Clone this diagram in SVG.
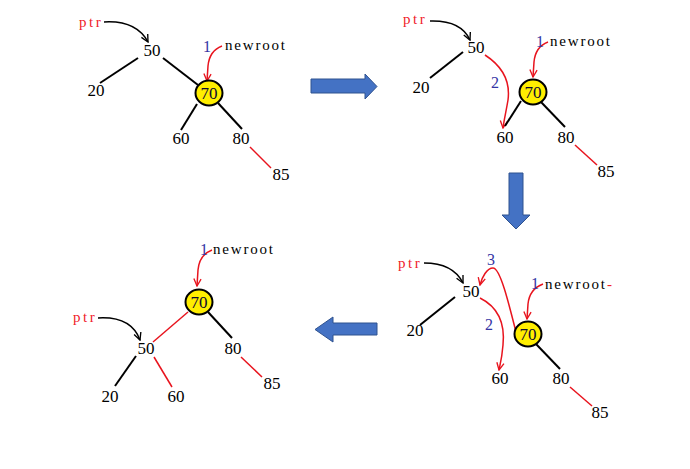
<svg xmlns="http://www.w3.org/2000/svg" width="690" height="469" viewBox="0 0 690 469">
<defs>
<marker id="ab" viewBox="0 0 10 10" refX="9" refY="5" markerWidth="9" markerHeight="9" orient="auto" markerUnits="userSpaceOnUse"><path d="M1,1 L9,5 L1,9" fill="none" stroke="#000" stroke-width="1.5"/></marker>
<marker id="ar" viewBox="0 0 10 10" refX="9" refY="5" markerWidth="9" markerHeight="9" orient="auto" markerUnits="userSpaceOnUse"><path d="M1,1 L9,5 L1,9" fill="none" stroke="#e8141e" stroke-width="1.5"/></marker>
<style>
.num{font-family:"Liberation Serif",serif;font-size:17px;fill:#000;text-anchor:middle}
.n70{font-family:"Liberation Serif",serif;font-size:17px;fill:#0a0a30;text-anchor:middle}
.ptr{font-family:"Liberation Serif",serif;font-size:15px;fill:#f0202a;letter-spacing:2.6px}
.nr{font-family:"Liberation Serif",serif;font-size:15px;fill:#000;letter-spacing:1.8px}
.lab{font-family:"Liberation Serif",serif;font-size:16px;fill:#3434a4}
.bl{stroke:#000;stroke-width:2;fill:none}
.rl{stroke:#e8141e;stroke-width:1.5;fill:none}
.bc{stroke:#000;stroke-width:1.5;fill:none}
.circ{fill:#ffee00;stroke:#000;stroke-width:2}
.big{fill:#4472c4;stroke:#2f528f;stroke-width:1}
</style>
</defs>

<g id="connectors">
<!-- panel 1 -->
<path class="bc" d="M104,22 Q136,20 148,42" marker-end="url(#ab)"/>
<path class="rl" d="M222,46 C214,49 209,55 208,66 L207,81" marker-end="url(#ar)"/>
<line class="bl" x1="163" y1="58" x2="198" y2="85"/>
<line class="bl" x1="138" y1="58" x2="100" y2="83"/>
<line class="bl" x1="197" y1="104" x2="181" y2="130"/>
<line class="bl" x1="218" y1="103" x2="242" y2="129"/>
<line class="rl" x1="250" y1="147" x2="271" y2="168"/>
<!-- panel 2 -->
<path class="bc" d="M430,21 Q461,20 470,40" marker-end="url(#ab)"/>
<path class="rl" d="M548,42 C540,45 535,51 534,62 L533,77" marker-end="url(#ar)"/>
<line class="bl" x1="463" y1="52" x2="430" y2="78"/>
<path class="rl" d="M485,55 C505,68 510,85 508,100 C506,112 504,120 503,128" marker-end="url(#ar)"/>
<line class="bl" x1="521" y1="101" x2="505" y2="126"/>
<line class="bl" x1="541" y1="102" x2="565" y2="127"/>
<line class="rl" x1="575" y1="145" x2="597" y2="165"/>
<!-- panel 3 -->
<path class="bc" d="M424,263 Q453,263 463,283" marker-end="url(#ab)"/>
<path class="rl" d="M517,336 C508,300 500,268 493,268 C487,268 482,277 480,285" marker-end="url(#ar)"/>
<path class="rl" d="M543,284 C535,287 529,294 528,304 L527,319" marker-end="url(#ar)"/>
<line class="bl" x1="455" y1="297" x2="420" y2="325"/>
<path class="rl" d="M480,298 C500,308 505,325 503,345 C502,358 500,365 499,370" marker-end="url(#ar)"/>
<line class="bl" x1="536" y1="344" x2="560" y2="369"/>
<line class="rl" x1="570" y1="387" x2="592" y2="406"/>
<!-- panel 4 -->
<path class="rl" d="M212,250 C204,253 199,259 198,270 L197,286" marker-end="url(#ar)"/>
<line class="rl" x1="188" y1="312" x2="153" y2="342"/>
<line class="bl" x1="208" y1="312" x2="232" y2="338"/>
<path class="bc" d="M98,318 Q131,316 140,340" marker-end="url(#ab)"/>
<line class="bl" x1="136" y1="356" x2="115" y2="386"/>
<line class="rl" x1="154" y1="357" x2="172" y2="387"/>
<line class="rl" x1="241" y1="357" x2="262" y2="377"/>
</g>

<g id="arrows">
<path class="big" d="M311,79 L365,79 L365,74 L377,86.5 L365,99 L365,93 L311,93 Z"/>
<path class="big" d="M509,173 L523,173 L523,215 L530,215 L516,229 L502,215 L509,215 Z"/>
<path class="big" d="M377,323 L333,323 L333,317 L315,329.5 L333,342 L333,335 L377,335 Z"/>
</g>

<g id="panel1">
<text class="ptr" x="79" y="27">ptr</text>
<text class="lab" x="203" y="52">1</text>
<text class="nr" x="225" y="50">newroot</text>
<g id="p1-50"><text class="num" x="152" y="56">50</text></g>
<g id="p1-20"><text class="num" x="96" y="96">20</text></g>
<g id="p1-70"><ellipse class="circ" cx="209" cy="93" rx="13.5" ry="12.5"/><text class="n70" x="209" y="99">70</text></g>
<g id="p1-60"><text class="num" x="181" y="144">60</text></g>
<g id="p1-80"><text class="num" x="241" y="144">80</text></g>
<g id="p1-85"><text class="num" x="281" y="180">85</text></g>
</g>

<g id="panel2">
<text class="ptr" x="403" y="24">ptr</text>
<text class="lab" x="536" y="47">1</text>
<text class="nr" x="550" y="46">newroot</text>
<text class="lab" x="491" y="88">2</text>
<g id="p2-50"><text class="num" x="476" y="53">50</text></g>
<g id="p2-20"><text class="num" x="421" y="93">20</text></g>
<g id="p2-70"><ellipse class="circ" cx="533" cy="92" rx="13.5" ry="12.5"/><text class="n70" x="533" y="98">70</text></g>
<g id="p2-60"><text class="num" x="505" y="143">60</text></g>
<g id="p2-80"><text class="num" x="566" y="143">80</text></g>
<g id="p2-85"><text class="num" x="606" y="177">85</text></g>
</g>

<g id="panel3">
<text class="ptr" x="398" y="268">ptr</text>
<text class="lab" x="487" y="265">3</text>
<text class="lab" x="531" y="289">1</text>
<text class="nr" x="545" y="289">newroot</text>
<text class="ptr" x="607" y="289">-</text>
<text class="lab" x="485" y="330">2</text>
<g id="p3-50"><text class="num" x="471" y="297">50</text></g>
<g id="p3-20"><text class="num" x="415" y="336">20</text></g>
<g id="p3-70"><ellipse class="circ" cx="528" cy="334" rx="13.5" ry="12.5"/><text class="n70" x="528" y="340">70</text></g>
<g id="p3-60"><text class="num" x="500" y="384">60</text></g>
<g id="p3-80"><text class="num" x="561" y="384">80</text></g>
<g id="p3-85"><text class="num" x="600" y="418">85</text></g>
</g>

<g id="panel4">
<text class="lab" x="200" y="255">1</text>
<text class="nr" x="213" y="254">newroot</text>
<text class="ptr" x="73" y="322">ptr</text>
<g id="p4-70"><ellipse class="circ" cx="199" cy="302" rx="13.5" ry="12.5"/><text class="n70" x="199" y="308">70</text></g>
<g id="p4-50"><text class="num" x="146" y="354">50</text></g>
<g id="p4-80"><text class="num" x="233" y="354">80</text></g>
<g id="p4-20"><text class="num" x="110" y="402">20</text></g>
<g id="p4-60"><text class="num" x="176" y="402">60</text></g>
<g id="p4-85"><text class="num" x="272" y="389">85</text></g>
</g>
</svg>
